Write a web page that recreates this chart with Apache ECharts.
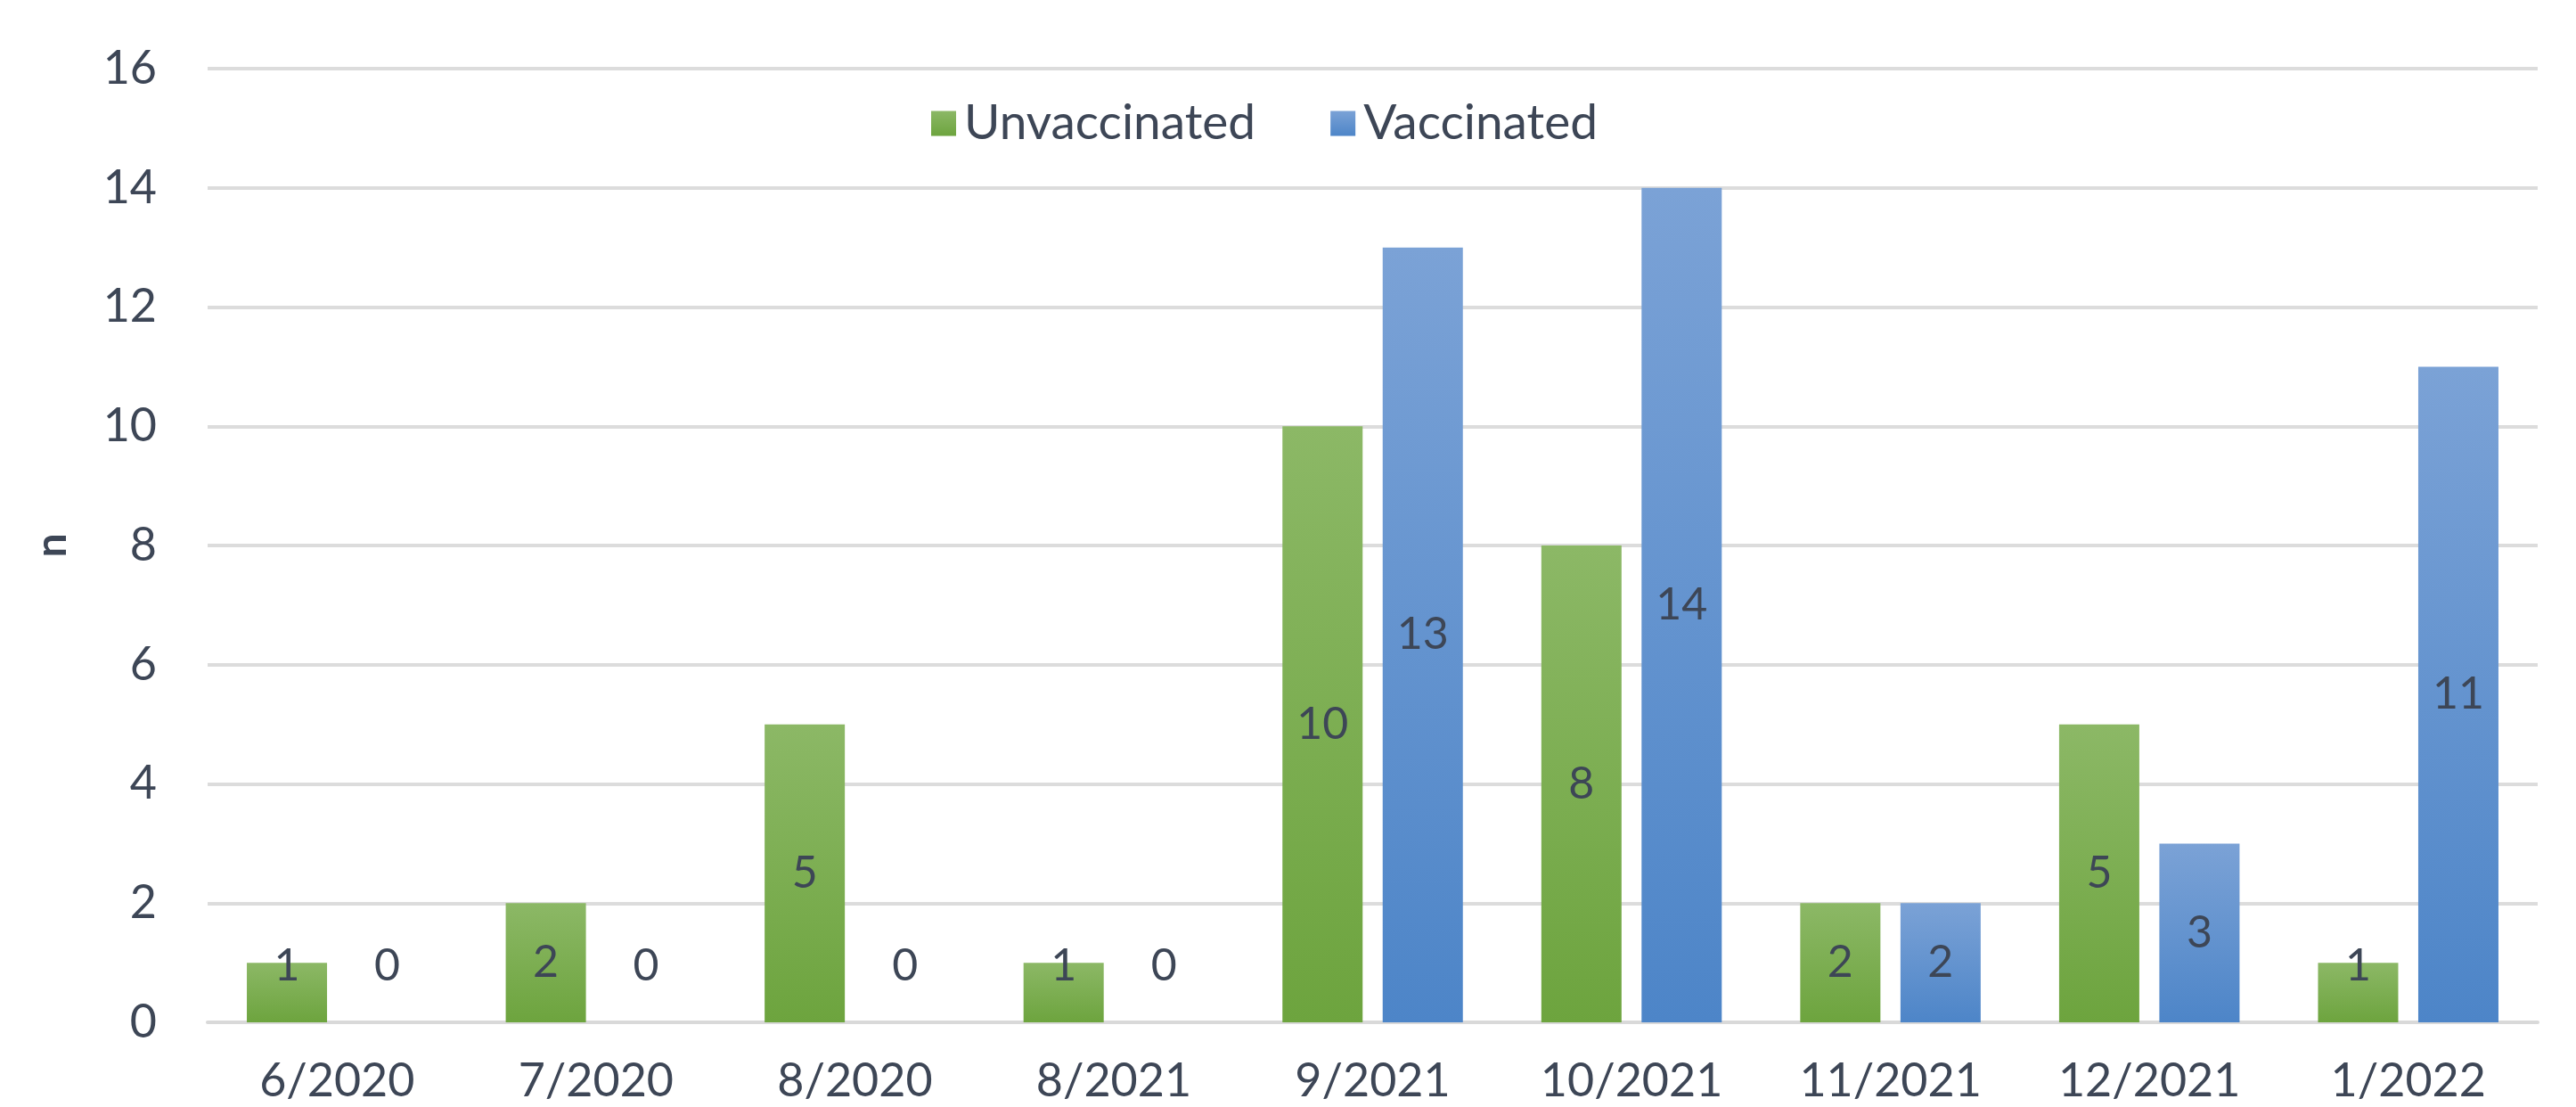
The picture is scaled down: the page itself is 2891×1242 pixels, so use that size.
<!DOCTYPE html>
<html><head><meta charset="utf-8">
<script src="https://cdn.jsdelivr.net/npm/echarts@6/dist/echarts.min.js"></script>
<style>html,body{margin:0;padding:0;background:#fff}#c{width:2891px;height:1242px}</style>
</head><body><div id="c"></div>
<script>
const categories = ['6/2020','7/2020','8/2020','8/2021','9/2021','10/2021','11/2021','12/2021','1/2022'];
const unvaccinated = [1,2,5,1,10,8,2,5,1];
const vaccinated = [0,0,0,0,13,14,2,3,11];
const seriesNames = ['Unvaccinated','Vaccinated'];
const yTicks = {min:0, max:16, interval:2};

const FONT = 'Lato';
const TXT = '#3d4656';
function grad(top, bottom){
  return new echarts.graphic.LinearGradient(0,0,0,1,[{offset:0,color:top},{offset:1,color:bottom}]);
}
function items(arr){
  return arr.map(v => v <= 1 ? {value:v, label:{position:'insideBottom', distance:38}} : v);
}
const labelCfg = {show:true, position:'inside', color:TXT, fontFamily:FONT, fontSize:50};
const chart = echarts.init(document.getElementById('c'));
chart.setOption({
  animation:false,
  textStyle:{fontFamily:FONT},
  legend:{
    top:106, left:1040, itemWidth:28, itemHeight:28, itemGap:84,
    icon:'rect',
    textStyle:{fontFamily:FONT, fontSize:55, color:TXT, padding:[0,0,0,4]},
    data:seriesNames
  },
  grid:{left:233, right:43, top:77, bottom:95, containLabel:false},
  xAxis:{
    type:'category', data:categories,
    axisLine:{show:true, lineStyle:{color:'#d9d9d9', width:4}},
    axisTick:{show:false},
    axisLabel:{color:TXT, fontSize:52, fontFamily:FONT, margin:40}
  },
  yAxis:{
    type:'value', min:yTicks.min, max:yTicks.max, interval:yTicks.interval,
    name:'n', nameLocation:'middle', nameGap:150, nameRotate:90,
    nameTextStyle:{color:TXT, fontSize:48, fontWeight:'bold', fontFamily:FONT},
    axisLine:{show:false}, axisTick:{show:false},
    splitLine:{lineStyle:{color:'#dcdcdc', width:4}},
    axisLabel:{color:TXT, fontSize:52, fontFamily:FONT, margin:57}
  },
  series:[
    {name:seriesNames[0], type:'bar', data:items(unvaccinated), barWidth:90, barGap:'25%',
     itemStyle:{color:grad('#8cb866','#6da43e')}, label:labelCfg},
    {name:seriesNames[1], type:'bar', data:items(vaccinated), barWidth:90,
     itemStyle:{color:grad('#7ba2d6','#4d85c8')}, label:labelCfg}
  ]
});
</script></body></html>
